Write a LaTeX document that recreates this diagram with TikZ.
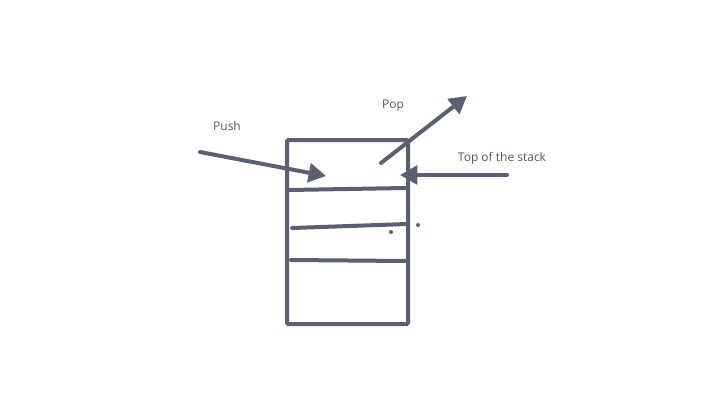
\documentclass[tikz,border=0pt]{standalone}
\usepackage{fontspec}
\setmainfont{Open Sans}
\usetikzlibrary{arrows.meta}
\definecolor{ink}{HTML}{5A6072}
\begin{document}
\begin{tikzpicture}[x=0.75pt,y=-0.75pt,
  stroke/.style={draw=ink,line width=3pt,line cap=round},
  arr/.style={stroke,-{Triangle[length=13pt,width=14pt]}},
  lbl/.style={text=ink!90!black,font=\fontsize{9pt}{11pt}\selectfont,inner sep=0pt},
  dot/.style={circle,fill=ink,inner sep=0pt,minimum size=3pt}]
\useasboundingbox (0,0) rectangle (720,405);
\node[draw=ink,line width=3pt,minimum width=90.75pt,minimum height=138pt,inner sep=0pt,rounded corners=1pt] (stack) at (347.5,232) {};
% shelves
\coordinate (l1a) at (289,190); \coordinate (l1b) at (405,188);
\coordinate (l2a) at (292,228); \coordinate (l2b) at (407,224);
\coordinate (l3a) at (291,260); \coordinate (l3b) at (407,261);
\draw[stroke] (l1a) -- (l1b);
\draw[stroke] (l2a) -- (l2b);
\draw[stroke] (l3a) -- (l3b);
\node[dot] (d1) at (391,232) {};
\node[dot] (d2) at (418,225) {};
% labels
\node[lbl] (push) at (227,126) {Push};
\node[lbl] (pop) at (393,106) {Pop};
\node[lbl] (top) at (502,158) {Top of the stack};
% arrows
\coordinate (ps) at (200,152); \coordinate (pe) at (326,176);
\coordinate (os) at (381,163); \coordinate (oe) at (467,96);
\coordinate (ts) at (507,175); \coordinate (te) at (400,175);
\draw[arr] (ps) -- (pe);
\draw[arr] (os) -- (oe);
\draw[arr] (ts) -- (te);
\end{tikzpicture}
\end{document}
